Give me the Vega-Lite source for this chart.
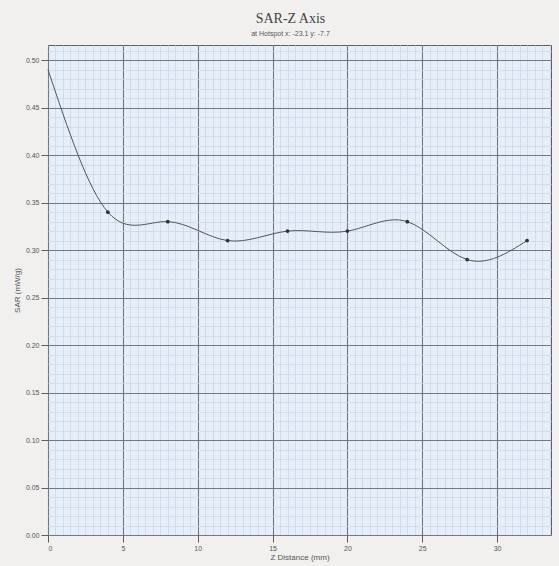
{
  "$schema": "https://vega.github.io/schema/vega-lite/v6.json",
  "width": 503,
  "height": 490,
  "autosize": {"type": "none"},
  "padding": {"left": 48, "top": 45, "right": 8, "bottom": 31},
  "background": "#f1f0ee",
  "title": {
    "text": "SAR-Z Axis",
    "subtitle": "at Hotspot x: -23.1 y: -7.7",
    "font": "Liberation Serif",
    "fontSize": 14,
    "fontWeight": "normal",
    "color": "#444444",
    "subtitleFont": "Liberation Sans",
    "subtitleFontSize": 7,
    "subtitleColor": "#555555",
    "subtitlePadding": 4,
    "anchor": "middle",
    "offset": 8,
    "dx": -9
  },
  "config": {
    "view": {"fill": "#e6eef9", "stroke": "#5a5f66", "strokeWidth": 1}
  },
  "data": {
    "values": [
      {"z": 0, "sar": 0.49},
      {"z": 4, "sar": 0.34},
      {"z": 8, "sar": 0.33},
      {"z": 12, "sar": 0.31},
      {"z": 16, "sar": 0.32},
      {"z": 20, "sar": 0.32},
      {"z": 24, "sar": 0.33},
      {"z": 28, "sar": 0.29},
      {"z": 32, "sar": 0.31}
    ]
  },
  "resolve": {"axis": {"x": "independent", "y": "independent"}},
  "layer": [
    {
      "mark": {"type": "line", "interpolate": "natural", "color": "#555555", "strokeWidth": 1},
      "encoding": {
        "x": {
          "field": "z", "type": "quantitative",
          "scale": {"domain": [0, 33.6], "nice": false, "zero": false},
          "axis": {"orient": "bottom", "tickCount": 67, "labels": false, "ticks": false, "domain": false, "title": null, "grid": true, "gridColor": "#cdd8e7", "gridWidth": 0.8}
        },
        "y": {
          "field": "sar", "type": "quantitative",
          "scale": {"domain": [0, 0.516], "nice": false, "zero": false},
          "axis": {"orient": "left", "tickCount": 52, "labels": false, "ticks": false, "domain": false, "title": null, "grid": true, "gridColor": "#cdd8e7", "gridWidth": 0.8}
        }
      }
    },
    {
      "transform": [{"filter": "datum.z > 0"}],
      "mark": {"type": "circle", "size": 14, "color": "#333333", "opacity": 1},
      "encoding": {
        "x": {
          "field": "z", "type": "quantitative",
          "axis": {
            "orient": "bottom", "values": [0, 5, 10, 15, 20, 25, 30], "format": "d",
            "title": "Z Distance (mm)", "titleFont": "Liberation Sans", "titleFontSize": 8, "titleFontWeight": "normal", "titleColor": "#555555", "titlePadding": 2,
            "labelFont": "Liberation Sans", "labelFontSize": 7, "labelColor": "#555555", "labelPadding": 2,
            "ticks": true, "tickSize": 7, "tickColor": "#5a5f66", "domain": false,
            "grid": true, "gridColor": "#737981", "gridWidth": 1.1
          }
        },
        "y": {
          "field": "sar", "type": "quantitative",
          "axis": {
            "orient": "left", "values": [0, 0.05, 0.1, 0.15, 0.2, 0.25, 0.3, 0.35, 0.4, 0.45, 0.5], "format": ".2f",
            "title": "SAR (mW/g)", "titleFont": "Liberation Sans", "titleFontSize": 8, "titleFontWeight": "normal", "titleColor": "#555555", "titlePadding": 4,
            "labelFont": "Liberation Sans", "labelFontSize": 7, "labelColor": "#555555", "labelPadding": 2,
            "ticks": true, "tickSize": 7, "tickColor": "#5a5f66", "domain": false,
            "grid": true, "gridColor": "#737981", "gridWidth": 1.1
          }
        }
      }
    }
  ]
}
